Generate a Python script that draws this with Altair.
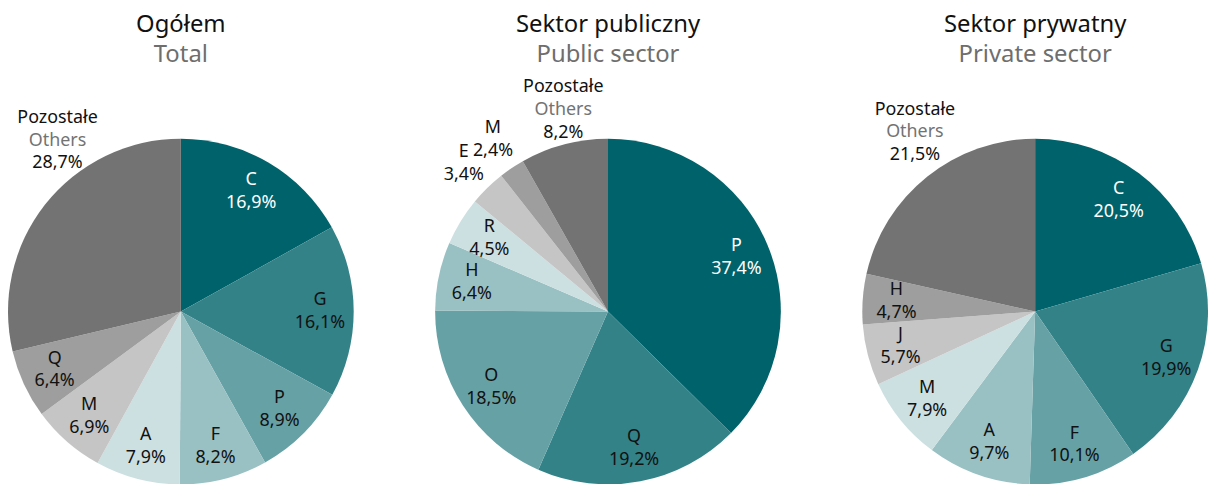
import altair as alt
import pandas as pd

# ---- data ----
cats_total = ["C", "G", "P", "F", "A", "M", "Q", "Pozostałe"]
vals_total = [16.9, 16.1, 8.9, 8.2, 7.9, 6.9, 6.4, 28.7]
cats_public = ["P", "Q", "O", "H", "R", "E", "M", "Pozostałe"]
vals_public = [37.4, 19.2, 18.5, 6.4, 4.5, 3.4, 2.4, 8.2]
cats_private = ["C", "G", "F", "A", "M", "J", "H", "Pozostałe"]
vals_private = [20.5, 19.9, 10.1, 9.7, 7.9, 5.7, 4.7, 21.5]
outside_total = ["Pozostałe"]
outside_public = ["E", "M", "Pozostałe"]
outside_private = ["Pozostałe"]
titles_pl = ["Ogółem", "Sektor publiczny", "Sektor prywatny"]
titles_en = ["Total", "Public sector", "Private sector"]
others_pl = "Pozostałe"
others_en = "Others"

palette = ["#00626a", "#338288", "#66a1a5", "#99c0c3", "#cce0e1",
           "#c5c5c5", "#9d9e9d", "#737373"]

FONT = "Noto Sans"
FS = 18
R = 174
R_IN = 140
R_OUT = 208
W = 2 * R


def make_pie(cats, vals, outside, odx, ody):
    df = pd.DataFrame({"cat": cats, "value": vals, "rank": list(range(len(cats)))})
    df["pct"] = [f"{v:.1f}".replace(".", ",") + "%" for v in vals]
    df["kind"] = ["in" if c not in outside else ("oth" if c == others_pl else "out") for c in cats]
    df["en"] = [others_en if c == others_pl else "" for c in cats]

    theta_scale = alt.Scale(domain=[0, 100])
    arcs = alt.Chart(df).mark_arc(radius=R).encode(
        theta=alt.Theta("value:Q", stack=True, scale=theta_scale),
        order=alt.Order("rank:O"),
        color=alt.Color("rank:O", scale=alt.Scale(domain=list(range(8)), range=palette), legend=None),
    )

    lab = alt.Chart(df).transform_window(
        cum="sum(value)", sort=[alt.SortField("rank", order="ascending")], frame=[None, 0]
    ).transform_calculate(mid="datum.cum - datum.value / 2")

    def t(kind, field, r, dx, dy, color):
        return lab.transform_filter(alt.datum.kind == kind).mark_text(
            radius=r, dx=dx, dy=dy, font=FONT, fontSize=FS, align="center", baseline="middle"
        ).encode(
            theta=alt.Theta("mid:Q", scale=theta_scale),
            text=f"{field}:N",
            color=color,
        )

    tcol = alt.condition(alt.datum.rank == 0, alt.value("white"), alt.value("#111111"))
    black = alt.value("#111111")
    layers = [
        arcs,
        t("in", "cat", R_IN, 0, -11.5, tcol),
        t("in", "pct", R_IN, 0, 11.5, tcol),
        t("out", "cat", R_OUT, 0, -11.5, black),
        t("out", "pct", R_OUT, 0, 11.5, black),
        t("oth", "cat", R_OUT, odx, ody - 23, black),
        t("oth", "en", R_OUT, odx, ody, alt.value("#737373")),
        t("oth", "pct", R_OUT, odx, ody + 23, black),
    ]
    return alt.layer(*layers).properties(width=W, height=W)


def make_title(t_pl, t_en):
    d = pd.DataFrame({"pl": [t_pl], "en": [t_en]})
    base = alt.Chart(d)
    a = base.mark_text(font=FONT, fontSize=24, color="#111111", align="center", baseline="middle").encode(
        text="pl:N", x=alt.value(W / 2), y=alt.value(16))
    b = base.mark_text(font=FONT, fontSize=24, color="#6e6e6e", align="center", baseline="middle").encode(
        text="en:N", x=alt.value(W / 2), y=alt.value(46))
    return alt.layer(a, b).properties(width=W, height=60)


p1 = make_pie(cats_total, vals_total, outside_total, 39, -43)
p2 = make_pie(cats_public, vals_public, outside_public, 8, -2)
p3 = make_pie(cats_private, vals_private, outside_private, 9, -18)

top = alt.hconcat(make_title(titles_pl[0], titles_en[0]),
                  make_title(titles_pl[1], titles_en[1]),
                  make_title(titles_pl[2], titles_en[2]), spacing=82, bounds="flush")
bottom = alt.hconcat(p1, p2, p3, spacing=82, bounds="flush")

chart = alt.vconcat(top, bottom, spacing=130, bounds="flush").properties(padding=0).configure_view(stroke=None)

chart.save("out.html", embed_options={"renderer": "svg", "actions": False})
